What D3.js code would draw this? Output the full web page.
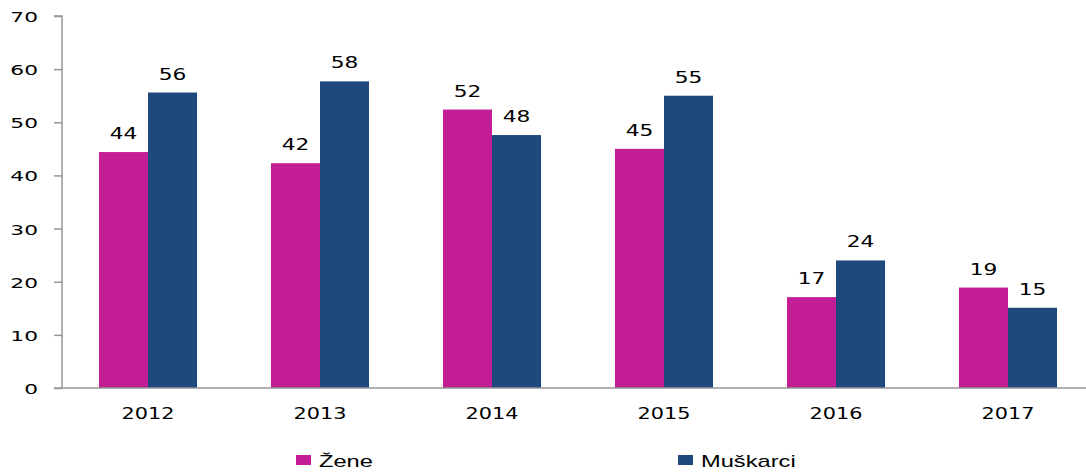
<!DOCTYPE html>
<html>
<head>
<meta charset="utf-8">
<script src="https://cdn.jsdelivr.net/npm/d3@7.9.0/dist/d3.min.js"></script>
<style>
  body { margin: 0; background: #fff; }
  svg text { font-family: "DejaVu Sans", Verdana, sans-serif; fill: #000; }
</style>
</head>
<body>
<div id="chart"></div>
<script>
const years = ['2012', '2013', '2014', '2015', '2016', '2017'];
const zene = [44.4, 42.3, 52.4, 45.0, 17.1, 18.9];
const muskarci = [55.6, 57.7, 47.6, 55.0, 24.0, 15.1];
const seriesNames = ['Žene', 'Muškarci'];
const colors = ['#C41E96', '#1F497D'];
const yTicks = [0, 10, 20, 30, 40, 50, 60, 70];

const width = 1086;
const height = 473;
const margin = { left: 62, top: 16, bottom: 85 };

const svg = d3.select('#chart').append('svg')
  .attr('width', width)
  .attr('height', height);

// the original text is drawn horizontally stretched
function stretch(sel, sx) {
  sel.each(function () {
    const t = d3.select(this);
    const tx = +t.attr('x') || 0;
    const ty = +t.attr('y') || 0;
    t.attr('x', 0).attr('y', 0)
      .attr('transform', `translate(${tx},${ty}) scale(${sx},1)`);
  });
}

const x = d3.scaleBand()
  .domain(years)
  .range([margin.left, margin.left + 172 * years.length])
  .paddingInner(0.43)
  .paddingOuter(0.215);

const inner = d3.scaleBand()
  .domain(seriesNames)
  .range([0, x.bandwidth()]);

const y = d3.scaleLinear()
  .domain([0, 70])
  .range([height - margin.bottom, margin.top]);

const rows = years.map((yr, i) => ({ year: yr, values: [zene[i], muskarci[i]] }));

// bars
const groups = svg.append('g').selectAll('g')
  .data(rows)
  .join('g')
  .attr('transform', d => `translate(${x(d.year)},0)`);

groups.selectAll('rect')
  .data(d => d.values.map((v, j) => ({ name: seriesNames[j], v, j })))
  .join('rect')
  .attr('x', d => inner(d.name))
  .attr('width', inner.bandwidth())
  .attr('y', d => y(d.v))
  .attr('height', d => y(0) - y(d.v))
  .attr('fill', d => colors[d.j]);

groups.selectAll('text.lbl')
  .data(d => d.values.map((v, j) => ({ name: seriesNames[j], v, j })))
  .join('text')
  .attr('class', 'lbl')
  .attr('x', d => inner(d.name) + inner.bandwidth() / 2)
  .attr('y', d => y(d.v) - 13)
  .attr('text-anchor', 'middle')
  .style('font-size', '15px')
  .text(d => d3.format('.0f')(d.v))
  .call(stretch, 1.45);

// y axis
const yAxis = svg.append('g')
  .attr('transform', `translate(${margin.left},0)`)
  .call(d3.axisLeft(y).tickValues(yTicks).tickSize(8).tickPadding(16));
yAxis.selectAll('line, path').attr('stroke', '#969696').attr('stroke-width', 1.5);
yAxis.selectAll('text').style('font-size', '14.5px').attr('dy', null).attr('y', 5.5).call(stretch, 1.5);
yAxis.select('.domain').attr('d', `M0,${y(0)}V${y(70)}H-8`);

// x axis baseline
const xAxis = svg.append('g')
  .attr('transform', `translate(0,${y(0)})`)
  .call(d3.axisBottom(x).tickSize(0).tickPadding(20));
xAxis.select('.domain').attr('d', `M${margin.left - 8},0H${width}`)
  .attr('stroke', '#969696').attr('stroke-width', 1.5);
xAxis.selectAll('text').style('font-size', '16px').call(stretch, 1.3);

// legend
const legendX = [296, 678];
const legend = svg.append('g').selectAll('g')
  .data(seriesNames)
  .join('g')
  .attr('transform', (d, i) => `translate(${legendX[i]},455)`);
legend.append('rect')
  .attr('width', 15).attr('height', 10)
  .attr('fill', (d, i) => colors[i]);
legend.append('text')
  .attr('x', 23).attr('y', 12)
  .style('font-family', '"Liberation Sans", Arial, sans-serif')
  .style('font-size', '16px')
  .text(d => d)
  .call(stretch, 1.48);
</script>
</body>
</html>
